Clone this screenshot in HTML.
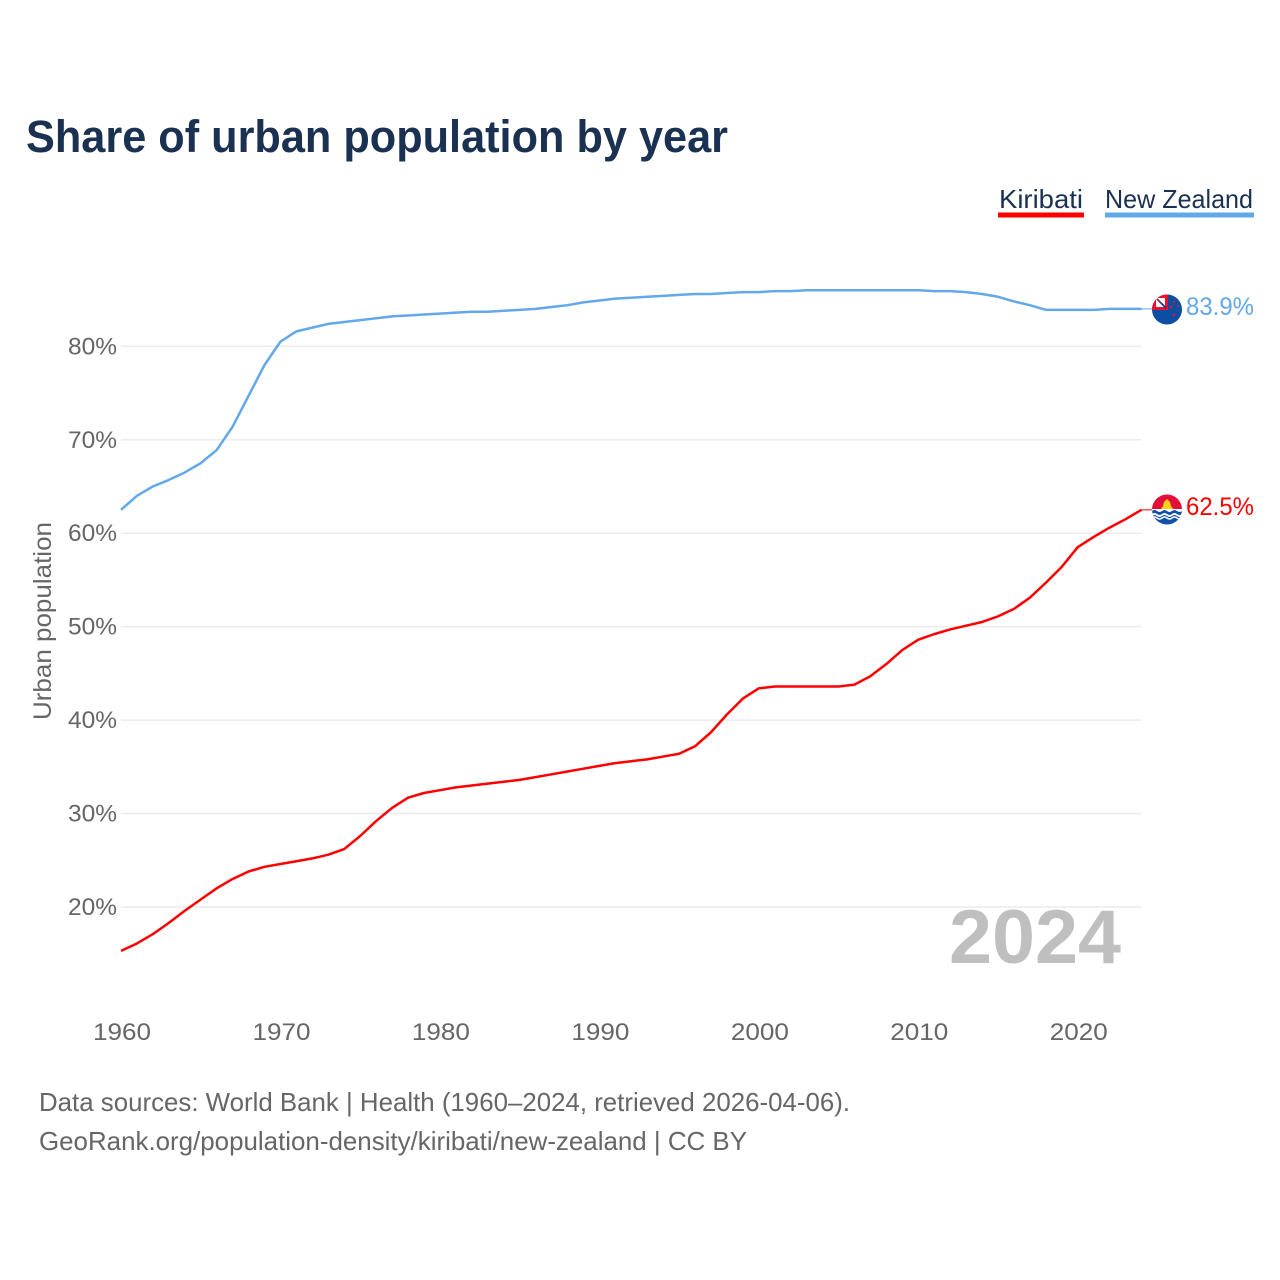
<!DOCTYPE html>
<html lang="en">
<head>
<meta charset="utf-8">
<title>Share of urban population by year</title>
<style>
html,body{margin:0;padding:0;background:#fff;}
svg{display:block;}
text{font-family:"Liberation Sans",sans-serif;}
</style>
</head>
<body>
<svg id="chart" width="1280" height="1280" viewBox="0 0 1280 1280" xmlns="http://www.w3.org/2000/svg">
  <defs>
    <clipPath id="clip-nz"><circle cx="1167" cy="309.5" r="15"/></clipPath>
    <clipPath id="clip-ki"><circle cx="1167" cy="509.5" r="15"/></clipPath>
  </defs>
  <rect width="1280" height="1280" fill="#fff"/>
  <text x="26" y="152" font-size="45" font-weight="700" fill="#1a3152" textLength="702" lengthAdjust="spacingAndGlyphs">Share of urban population by year</text>

  <g>
    <g>
      <text x="999" y="208" font-size="26" fill="#1a3152" textLength="84" lengthAdjust="spacingAndGlyphs">Kiribati</text>
      <rect x="998" y="212.5" width="86" height="5" fill="#ff0000"/>
    </g>
    <g>
      <text x="1105" y="208" font-size="26" fill="#1a3152" textLength="148" lengthAdjust="spacingAndGlyphs">New Zealand</text>
      <rect x="1105" y="212.5" width="149" height="5" fill="#62a8ea"/>
    </g>
  </g>

  <g id="grid"></g>
  <g id="y-ticks"></g>
  <g id="x-ticks"></g>
  <text transform="translate(51,621) rotate(-90)" text-anchor="middle" font-size="25" fill="#666" textLength="198" lengthAdjust="spacingAndGlyphs">Urban population</text>

  <text x="949" y="963" font-size="76" font-weight="700" fill="#bfbfbf" textLength="172" lengthAdjust="spacingAndGlyphs">2024</text>

  <g id="series"></g>

  <g clip-path="url(#clip-nz)">
    <rect x="1152" y="294" width="30" height="31" fill="#0b4ea2"/>
    <rect x="1152" y="294" width="16" height="16" fill="#e8112d"/>
    <rect x="1156" y="298" width="9" height="9" fill="#ffffff"/>
    <line x1="1157" y1="299" x2="1166" y2="308" stroke="#0b3a86" stroke-width="1.8"/>
    <line x1="1157" y1="299" x2="1161" y2="303" stroke="#e8112d" stroke-width="1.2"/>
    <circle cx="1174" cy="302" r="1.2" fill="#e8112d"/>
    <circle cx="1171" cy="307" r="1.2" fill="#e8112d"/>
    <circle cx="1178" cy="306" r="1" fill="#e8112d"/>
    <circle cx="1174" cy="315" r="1.4" fill="#e8112d"/>
  </g>
  <g clip-path="url(#clip-ki)">
    <rect x="1152" y="494" width="30" height="16" fill="#e30f3a"/>
    <rect x="1152" y="509" width="30" height="16" fill="#ffffff"/>
    <path d="M1152 511q2.500-2 5 0t5 0 5 0 5 0 5 0 5 0V514q-2.500 2-5 0t-5 0-5 0-5 0-5 0-5 0z" fill="#1251a8"/>
    <path d="M1152 516q2.500-2 5 0t5 0 5 0 5 0 5 0 5 0V525h-30z" fill="#1251a8"/>
    <path d="M1152 518q2.500-2 5 0t5 0 5 0 5 0 5 0 5 0" fill="none" stroke="#fff" stroke-width="1.500"/>
    <path d="M1161 509l2-3 1-4 3-3 3 3 1 4 2 3z" fill="#fcd116"/>
  </g>

  <text x="1186" y="315" font-size="25" fill="#62a8ea" textLength="68" lengthAdjust="spacingAndGlyphs">83.9%</text>
  <text x="1186" y="515" font-size="25" fill="#ff0000" textLength="68" lengthAdjust="spacingAndGlyphs">62.5%</text>

  <text x="39" y="1111" font-size="26" fill="#666" textLength="811" lengthAdjust="spacingAndGlyphs">Data sources: World Bank | Health (1960–2024, retrieved 2026-04-06).</text>
  <text x="39" y="1150" font-size="26" fill="#666" textLength="708" lengthAdjust="spacingAndGlyphs">GeoRank.org/population-density/kiribati/new-zealand | CC BY</text>
</svg>
<script>
var startYear = 1960;
var endYear = 2024;
var newZealandValues = [62.5,64,65,65.7,66.5,67.5,68.9,71.4,74.7,78,80.5,81.6,82,82.4,82.6,82.8,83,83.2,83.3,83.4,83.5,83.6,83.7,83.7,83.8,83.9,84,84.2,84.4,84.7,84.9,85.1,85.2,85.3,85.4,85.5,85.6,85.6,85.7,85.8,85.8,85.9,85.9,86,86,86,86,86,86,86,86,85.9,85.9,85.8,85.6,85.3,84.8,84.4,83.9,83.9,83.9,83.9,84,84,84];
var kiribatiValues = [15.3,16.1,17.1,18.3,19.6,20.8,22,23,23.8,24.3,24.6,24.9,25.2,25.6,26.2,27.6,29.2,30.6,31.7,32.2,32.5,32.8,33,33.2,33.4,33.6,33.9,34.2,34.5,34.8,35.1,35.4,35.6,35.8,36.1,36.4,37.2,38.7,40.6,42.3,43.4,43.6,43.6,43.6,43.6,43.6,43.8,44.7,46,47.5,48.6,49.2,49.7,50.1,50.5,51.1,51.9,53.1,54.7,56.4,58.5,59.6,60.6,61.5,62.5];
var yTickValues = [20,30,40,50,60,70,80];
var yTickLabels = ['20%','30%','40%','50%','60%','70%','80%'];
var xTickValues = [1960,1970,1980,1990,2000,2010,2020];
var xTickLabels = ['1960','1970','1980','1990','2000','2010','2020'];

var SVG_NS = 'http://www.w3.org/2000/svg';
function xScale(year) { return 121 + (year - startYear) * (1141.5 - 121) / (endYear - startYear); }
function yScale(value) { return 907 - (value - 20) * 9.345; }

var grid = document.getElementById('grid');
var yTicks = document.getElementById('y-ticks');
var xTicks = document.getElementById('x-ticks');
var seriesGroup = document.getElementById('series');

yTickValues.forEach(function (v, i) {
  var line = document.createElementNS(SVG_NS, 'line');
  
  
  line.setAttribute('x1', 121);
  line.setAttribute('x2', 1141.5);
  line.setAttribute('y1', yScale(v));
  line.setAttribute('y2', yScale(v));
  line.setAttribute('stroke', '#ececec');
  line.setAttribute('stroke-width', '1.5');
  grid.appendChild(line);

  var label = document.createElementNS(SVG_NS, 'text');
  
  
  label.setAttribute('x', 68);
  label.setAttribute('y', yScale(v) + 8);
  label.setAttribute('font-size', '24');
  label.setAttribute('fill', '#666');
  label.setAttribute('textLength', '49');
  label.setAttribute('lengthAdjust', 'spacingAndGlyphs');
  label.textContent = yTickLabels[i];
  yTicks.appendChild(label);
});

xTickValues.forEach(function (year, i) {
  var label = document.createElementNS(SVG_NS, 'text');
  
  
  label.setAttribute('x', xScale(year) - 28);
  label.setAttribute('y', 1040);
  label.setAttribute('font-size', '24');
  label.setAttribute('fill', '#666');
  label.setAttribute('textLength', '58');
  label.setAttribute('lengthAdjust', 'spacingAndGlyphs');
  label.textContent = xTickLabels[i];
  xTicks.appendChild(label);
});

function linePoints(values) {
  return values.map(function (v, i) {
    return xScale(startYear + i).toFixed(2) + ',' + yScale(v).toFixed(2);
  }).join(' ');
}

var nzLine = document.createElementNS(SVG_NS, 'polyline');


nzLine.setAttribute('points', linePoints(newZealandValues));
nzLine.setAttribute('fill', 'none');
nzLine.setAttribute('stroke', '#62a8ea');
nzLine.setAttribute('stroke-width', '2.5');
nzLine.setAttribute('stroke-linejoin', 'round');
seriesGroup.appendChild(nzLine);

var kiLine = document.createElementNS(SVG_NS, 'polyline');


kiLine.setAttribute('points', linePoints(kiribatiValues));
kiLine.setAttribute('fill', 'none');
kiLine.setAttribute('stroke', '#ff0000');
kiLine.setAttribute('stroke-width', '2.5');
kiLine.setAttribute('stroke-linejoin', 'round');
seriesGroup.appendChild(kiLine);

var nzLeader = document.createElementNS(SVG_NS, 'line');


nzLeader.setAttribute('x1', xScale(endYear));
nzLeader.setAttribute('x2', 1153);
nzLeader.setAttribute('y1', yScale(newZealandValues[newZealandValues.length - 1]));
nzLeader.setAttribute('y2', yScale(newZealandValues[newZealandValues.length - 1]));
nzLeader.setAttribute('stroke', '#62a8ea');
nzLeader.setAttribute('stroke-width', '1');
seriesGroup.appendChild(nzLeader);

var kiLeader = document.createElementNS(SVG_NS, 'line');


kiLeader.setAttribute('x1', xScale(endYear));
kiLeader.setAttribute('x2', 1153);
kiLeader.setAttribute('y1', yScale(kiribatiValues[kiribatiValues.length - 1]));
kiLeader.setAttribute('y2', yScale(kiribatiValues[kiribatiValues.length - 1]));
kiLeader.setAttribute('stroke', '#ff0000');
kiLeader.setAttribute('stroke-width', '1');
seriesGroup.appendChild(kiLeader);
</script>
</body>
</html>
